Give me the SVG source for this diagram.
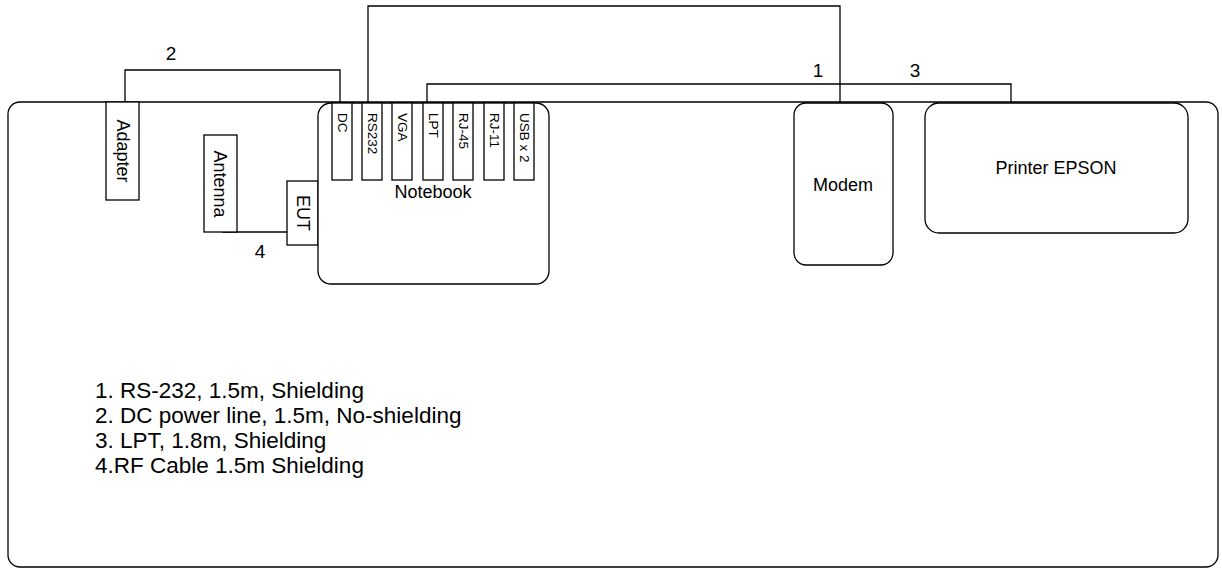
<svg xmlns="http://www.w3.org/2000/svg" width="1222" height="568" viewBox="0 0 1222 568">
<style>
.box{fill:#fff;stroke:#000;stroke-width:1.3}
.wire{fill:none;stroke:#000;stroke-width:1.3}
text{font-family:"Liberation Sans",Arial,sans-serif;fill:#000}
.lbl{font-size:18px}
.port{font-size:13.5px;dominant-baseline:central}
.rot{font-size:18px;dominant-baseline:central;text-anchor:middle}
.num{font-size:19px;text-anchor:middle}
.leg{font-size:22.5px}
</style>
<rect width="1222" height="568" fill="#fff"/>
<g id="room"><rect class="box" x="8" y="102" width="1210" height="465" rx="12"/></g>
<g id="connectors">
<polyline class="wire" points="125,102 125,70 340,70 340,102"/>
<polyline class="wire" points="368,103 368,6 840,6 840,103"/>
<polyline class="wire" points="427,103 427,84 1011,84 1011,103"/>
<polyline class="wire" points="222,232 287,232"/>
<text class="num" x="171" y="60">2</text>
<text class="num" x="818" y="77">1</text>
<text class="num" x="915" y="77">3</text>
<text class="num" x="260" y="258">4</text>
</g>
<g id="adapter"><rect class="box" x="106" y="102" width="33" height="98"/><text class="rot" transform="translate(123,151) rotate(90)">Adapter</text></g>
<g id="antenna"><rect class="box" x="204" y="135" width="33" height="97"/><text class="rot" transform="translate(220,184) rotate(90)">Antenna</text></g>
<g id="eut"><rect class="box" x="287" y="181" width="31" height="64"/><text class="rot" transform="translate(303,213) rotate(90)">EUT</text></g>
<g id="notebook"><rect class="box" x="318" y="103" width="231" height="181" rx="13"/><text class="lbl" x="433" y="198" text-anchor="middle">Notebook</text></g>
<g id="port-dc"><rect class="box" x="332" y="103" width="20" height="77"/><text class="port" transform="translate(342,113) rotate(90)">DC</text></g>
<g id="port-rs232"><rect class="box" x="362" y="103" width="20" height="77"/><text class="port" transform="translate(372,113) rotate(90)">RS232</text></g>
<g id="port-vga"><rect class="box" x="392" y="103" width="20" height="77"/><text class="port" transform="translate(402,113) rotate(90)">VGA</text></g>
<g id="port-lpt"><rect class="box" x="423" y="103" width="20" height="77"/><text class="port" transform="translate(433,113) rotate(90)">LPT</text></g>
<g id="port-rj45"><rect class="box" x="453" y="103" width="20" height="77"/><text class="port" transform="translate(463,113) rotate(90)">RJ-45</text></g>
<g id="port-rj11"><rect class="box" x="484" y="103" width="20" height="77"/><text class="port" transform="translate(494,113) rotate(90)">RJ-11</text></g>
<g id="port-usb"><rect class="box" x="514" y="103" width="20" height="77"/><text class="port" transform="translate(524,113) rotate(90)">USB x 2</text></g>
<g id="modem"><rect class="box" x="794" y="103" width="99" height="162" rx="12"/><text class="lbl" x="843" y="191" text-anchor="middle">Modem</text></g>
<g id="printer"><rect class="box" x="925" y="103" width="263" height="130" rx="14"/><text class="lbl" x="1056" y="174" text-anchor="middle">Printer EPSON</text></g>
<g id="legend">
<text class="leg" x="95" y="398">1. RS-232, 1.5m, Shielding</text>
<text class="leg" x="95" y="423">2. DC power line, 1.5m, No-shielding</text>
<text class="leg" x="95" y="448">3. LPT, 1.8m, Shielding</text>
<text class="leg" x="95" y="473">4.RF Cable 1.5m Shielding</text>
</g>
</svg>
